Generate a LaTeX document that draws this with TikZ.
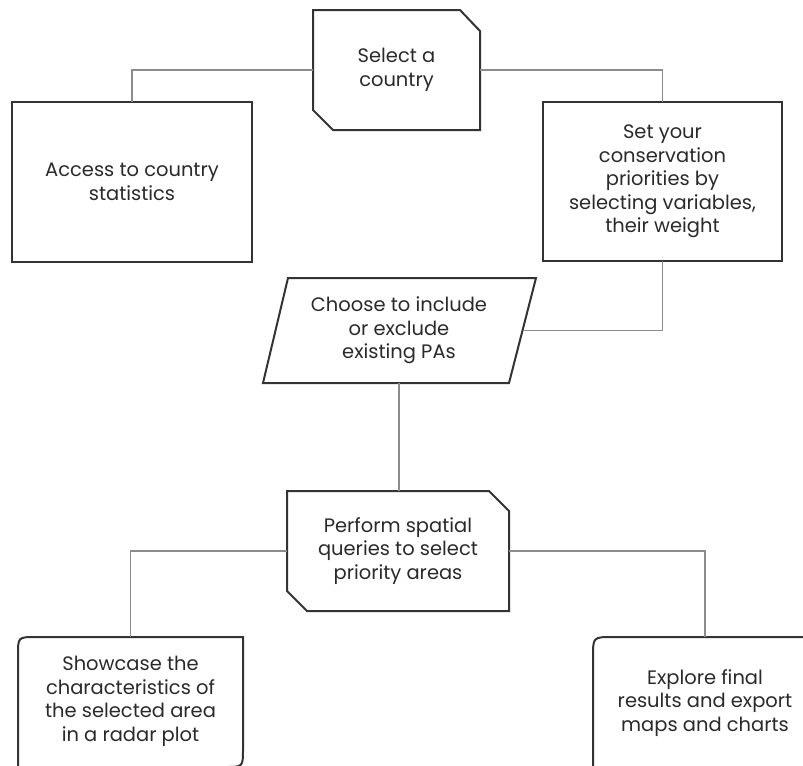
\documentclass[tikz,border=0pt]{standalone}
\usepackage{fontspec}
\setmainfont{Poppins}
\definecolor{ink}{HTML}{2A2A2A}
\definecolor{edge}{HTML}{333333}
\definecolor{wire}{HTML}{8C8C8C}
\begin{document}
\begin{tikzpicture}[x=0.75pt,y=-0.75pt,
  txt/.style 2 args={inner sep=0pt, align=center, text=ink,
    font=\fontsize{14.6}{17.6}\selectfont,
    minimum width=#1*0.75pt, minimum height=#2*0.75pt},
  outline/.style={draw=edge, line width=1.5pt, fill=white, line join=miter},
  wire/.style={draw=wire, line width=1.2pt}]
\useasboundingbox (0,0) rectangle (803,765);
\clip (0,0) rectangle (803,765);

% step outlines
\draw[outline] (313,10) -- (460,10) -- (480,31) -- (480,130) -- (333,130) -- (313,110) -- cycle;
\draw[outline] (12,102) rectangle (252,262);
\draw[outline] (543,102) rectangle (782,261);
\draw[outline] (288,278) -- (536,278) -- (509,383) -- (263,383) -- cycle;
\draw[outline] (287,491) -- (489,491) -- (509,511) -- (509,611) -- (307,611) -- (287,591) -- cycle;
\draw[outline] (18,767) -- (18,655) .. controls (18,637) .. (36,637) -- (243,637)
  -- (243,749) .. controls (243,767) .. (225,767) -- cycle;
\draw[outline] (593,790) -- (593,657) .. controls (593,637) .. (613,637) -- (830,637) -- (830,790) -- cycle;

% step labels
\node[txt={167}{120}] (sel)  at (396.5,70)    {Select a\\country};
\node[txt={240}{160}] (acc)  at (132,182)     {Access to country\\statistics};
\node[txt={239}{159}] (set)  at (662.5,181.5) {Set your\\conservation\\priorities by\\selecting variables,\\their weight};
\node[txt={247}{105}] (par)  at (399,330.5)   {Choose to include\\or exclude\\existing PAs};
\node[txt={222}{120}] (perf) at (398,551)     {Perform spatial\\queries to select\\priority areas};
\node[txt={225}{129}] (show) at (130.5,701.5) {Showcase the\\characteristics of\\the selected area\\in a radar plot};
\node[txt={224}{132}] (expl) at (705,703)     {Explore final\\results and export\\maps and charts};

% connectors
\draw[wire] (sel.west) -| (acc.north);
\draw[wire] (sel.east) -| (set.north);
\draw[wire] (set.south) |- (par.east);
\draw[wire] (par.south) -- (par.south |- perf.north);
\draw[wire] (perf.west) -| (show.north);
\draw[wire] (perf.east) -| (expl.north);
\end{tikzpicture}
\end{document}
